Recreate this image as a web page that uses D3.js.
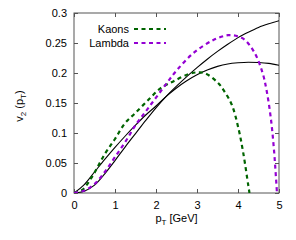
<!DOCTYPE html>
<html>
<head>
<meta charset="utf-8">
<script src="https://cdn.jsdelivr.net/npm/d3@7"></script>
<style>
  body { margin: 0; background: #fff; }
  svg text { font-family: "Liberation Sans", Arial, sans-serif; fill: #000; }
</style>
</head>
<body>
<div id="chart"></div>
<script>
// data
var kaonsPt = [0, 0.2, 0.44, 0.76, 1.0, 1.24, 1.49, 1.81, 2.1, 2.42, 2.79, 3.0, 3.2, 3.52, 3.68, 3.85, 4.01, 4.13, 4.25, 4.28];
var kaonsV2 = [0, 0.005, 0.027, 0.066, 0.09, 0.116, 0.133, 0.155, 0.174, 0.186, 0.198, 0.201, 0.1995, 0.183, 0.168, 0.147, 0.108, 0.066, 0.013, 0];

var lambdaPt = [0, 0.25, 0.5, 0.75, 1.0, 1.25, 1.5, 1.75, 2.0, 2.25, 2.5, 2.91, 3.4, 3.76, 4.0, 4.17, 4.41, 4.6, 4.7, 4.8, 4.88, 4.95];
var lambdaV2 = [0, 0.004, 0.015, 0.035, 0.06, 0.085, 0.113, 0.136, 0.159, 0.182, 0.204, 0.233, 0.255, 0.263, 0.261, 0.255, 0.233, 0.2, 0.17, 0.125, 0.07, 0];

var fitPt = [0, 0.25, 0.5, 0.75, 1.0, 1.25, 1.5, 1.75, 2.0, 2.25, 2.5, 2.75, 3.0, 3.25, 3.5, 3.75, 4.0, 4.25, 4.5, 4.75, 5.0];
var fitKaonsV2 = [0, 0.014, 0.035, 0.056, 0.076, 0.095, 0.113, 0.13, 0.145, 0.161, 0.175, 0.187, 0.197, 0.205, 0.211, 0.215, 0.217, 0.218, 0.2175, 0.216, 0.213];
var fitLambdaV2 = [0, 0.003, 0.013, 0.032, 0.054, 0.077, 0.099, 0.121, 0.142, 0.161, 0.178, 0.194, 0.209, 0.223, 0.236, 0.248, 0.259, 0.268, 0.276, 0.282, 0.287];

var xTicks = [0, 1, 2, 3, 4, 5];
var yTicks = [0, 0.05, 0.1, 0.15, 0.2, 0.25, 0.3];
var legendNames = ["Kaons", "Lambda"];
var legendColors = ["#006400", "#9400d3"];

var width = 296, height = 240;
var margin = { left: 74, right: 17, top: 13, bottom: 47 };
var dash = "4,3.5";

var svg = d3.select("#chart").append("svg")
    .attr("width", width)
    .attr("height", height);

var x = d3.scaleLinear().domain([0, 5]).range([margin.left, width - margin.right]);
var y = d3.scaleLinear().domain([0, 0.3]).range([height - margin.bottom, margin.top]);

// axes: ticks inward, mirrored on top/right
var tickLen = 4;
svg.append("g")
   .attr("transform", "translate(0," + y(0) + ")")
   .call(d3.axisBottom(x).tickValues(xTicks).tickSize(-tickLen).tickPadding(8).tickFormat(d3.format("d")));
svg.append("g")
   .attr("transform", "translate(0," + y(0.3) + ")")
   .call(d3.axisTop(x).tickValues(xTicks).tickSize(-tickLen).tickFormat(""));
svg.append("g")
   .attr("transform", "translate(" + x(0) + ",0)")
   .call(d3.axisLeft(y).tickValues(yTicks).tickSize(-tickLen).tickPadding(7).tickFormat(function (d) { return d3.format("")(+d.toFixed(2)); }));
svg.append("g")
   .attr("transform", "translate(" + x(5) + ",0)")
   .call(d3.axisRight(y).tickValues(yTicks).tickSize(-tickLen).tickFormat(""));

svg.selectAll(".domain").remove();
svg.selectAll(".tick line").attr("stroke", "#555");
svg.selectAll(".tick text").attr("font-size", 11).attr("font-family", "Liberation Sans, Arial, sans-serif");

svg.append("rect")
   .attr("x", x(0)).attr("y", y(0.3))
   .attr("width", x(5) - x(0)).attr("height", y(0) - y(0.3))
   .attr("fill", "none").attr("stroke", "#555").attr("stroke-width", 1);

// curves
var line = d3.line()
    .x(function (d) { return x(d[0]); })
    .y(function (d) { return y(d[1]); })
    .curve(d3.curveMonotoneX);
var dataLine = d3.line()
    .x(function (d) { return x(d[0]); })
    .y(function (d) { return y(d[1]); })
    .curve(d3.curveCatmullRom);

function pairs(xs, ys) {
    return xs.map(function (v, i) { return [v, ys[i]]; });
}

svg.append("clipPath").attr("id", "plot-clip")
   .append("rect")
   .attr("x", x(0)).attr("y", y(0.3))
   .attr("width", x(5) - x(0)).attr("height", y(0) - y(0.3));

var plot = svg.append("g").attr("clip-path", "url(#plot-clip)");

plot.append("path").datum(pairs(fitPt, fitKaonsV2))
    .attr("d", line).attr("fill", "none").attr("stroke", "#000").attr("stroke-width", 1.1);
plot.append("path").datum(pairs(fitPt, fitLambdaV2))
    .attr("d", line).attr("fill", "none").attr("stroke", "#000").attr("stroke-width", 1.1);

plot.append("path").datum(pairs(kaonsPt, kaonsV2))
    .attr("d", dataLine)
    .attr("fill", "none").attr("stroke", legendColors[0]).attr("stroke-width", 2.2)
    .attr("stroke-dasharray", dash);
plot.append("path").datum(pairs(lambdaPt, lambdaV2))
    .attr("d", dataLine)
    .attr("fill", "none").attr("stroke", legendColors[1]).attr("stroke-width", 2.2)
    .attr("stroke-dasharray", dash);

// legend
var legend = svg.append("g");
legendNames.forEach(function (name, i) {
    var ly = 29 + i * 14;
    legend.append("text")
        .attr("x", 129).attr("y", ly).attr("dy", "0.35em")
        .attr("text-anchor", "end").attr("font-size", 11)
        .text(name);
    legend.append("line")
        .attr("x1", 134).attr("x2", 166).attr("y1", ly).attr("y2", ly)
        .attr("stroke", legendColors[i]).attr("stroke-width", 2.2)
        .attr("stroke-dasharray", dash);
});

// axis labels
var xl = svg.append("text")
    .attr("x", x(2.5)).attr("y", 222)
    .attr("text-anchor", "middle").attr("font-size", 11);
xl.append("tspan").text("p");
xl.append("tspan").attr("font-size", 8).attr("dy", 3).text("T");
xl.append("tspan").attr("dy", -3).text(" [GeV]");

var yl = svg.append("text")
    .attr("transform", "translate(23," + (y(0.15) + 3) + ") rotate(-90)")
    .attr("text-anchor", "middle").attr("font-size", 11);
yl.append("tspan").text("v");
yl.append("tspan").attr("font-size", 8).attr("dy", 3).text("2");
yl.append("tspan").attr("dy", -3).text(" (p");
yl.append("tspan").attr("font-size", 8).attr("dy", 3).text("T");
yl.append("tspan").attr("dy", -3).text(")");
</script>
</body>
</html>
